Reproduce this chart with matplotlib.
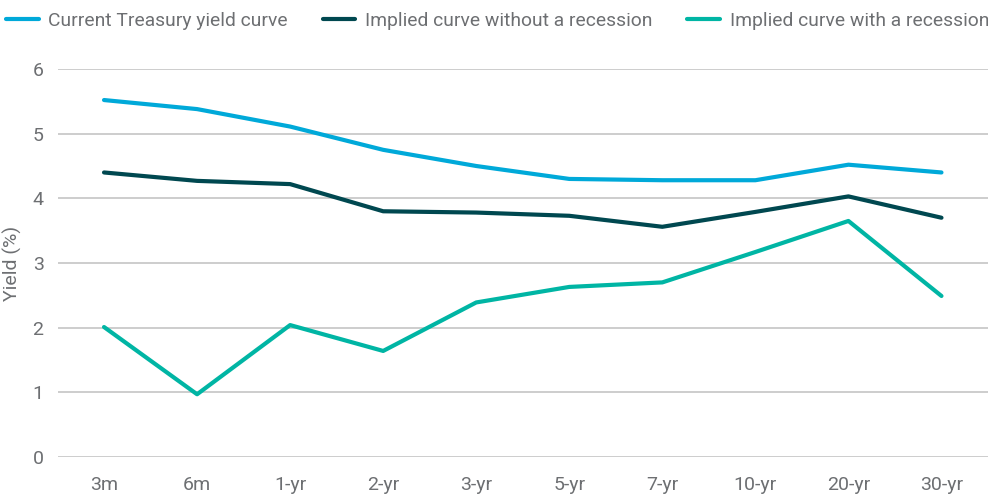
import matplotlib
matplotlib.use("Agg")
import matplotlib.pyplot as plt

maturities = ["3m", "6m", "1-yr", "2-yr", "3-yr", "5-yr", "7-yr", "10-yr", "20-yr", "30-yr"]
current_curve = [5.52, 5.38, 5.11, 4.75, 4.50, 4.30, 4.28, 4.28, 4.52, 4.40]
no_recession = [4.40, 4.27, 4.22, 3.80, 3.78, 3.73, 3.56, 3.79, 4.03, 3.70]
with_recession = [2.01, 0.97, 2.04, 1.64, 2.39, 2.63, 2.70, 3.17, 3.65, 2.49]
series_names = ["Current Treasury yield curve", "Implied curve without a recession",
                "Implied curve with a recession"]
y_ticks = [0, 1, 2, 3, 4, 5, 6]

colors = ["#00A9D9", "#004850", "#00B5A4"]
text_color = "#6D6F72"
grid_color = "#C9C9C9"

plt.rcParams['font.family'] = ['Roboto', 'DejaVu Sans']

fig = plt.figure(figsize=(9.88, 4.99), dpi=100)
ax = fig.add_axes([57.5 / 988, 1 - 457 / 499, 1 - 57.5 / 988, (457 - 69) / 499])

x = list(range(len(maturities)))
for vals, c, name in zip([current_curve, no_recession, with_recession], colors, series_names):
    ax.plot(x, vals, color=c, lw=3, label=name, solid_capstyle='round',
            solid_joinstyle='round', clip_on=False)

ax.set_xlim(-0.5, len(maturities) - 0.5)
ax.set_ylim(0, 6)
ax.set_yticks(y_ticks)
ax.set_xticks(x)
ax.set_xticklabels(maturities)
ax.grid(axis='y', color=grid_color, lw=1.3)
ax.set_axisbelow(True)
for s in ax.spines.values():
    s.set_visible(False)
ax.tick_params(axis='both', length=0, colors=text_color, labelsize=14)
ax.tick_params(axis='x', pad=14)
ax.tick_params(axis='y', pad=10)
ax.set_ylabel("Yield (%)", color=text_color, fontsize=14, labelpad=8)

leg = fig.legend(loc='center left', bbox_to_anchor=(0.0, 1 - 21 / 499), ncol=3,
                 frameon=False, fontsize=13.9, handlelength=1.7, handletextpad=0.5,
                 columnspacing=1.8, borderaxespad=0, borderpad=0.3)
for t in leg.get_texts():
    t.set_color(text_color)

fig.savefig("out.png", dpi=100)
